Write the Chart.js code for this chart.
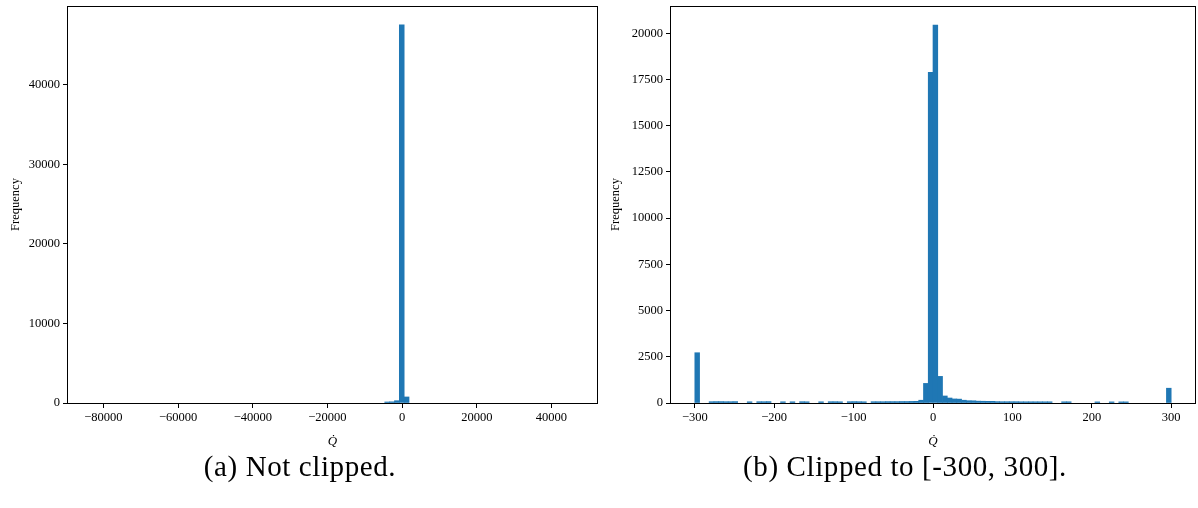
<!DOCTYPE html>
<html><head><meta charset="utf-8">
<script src="https://cdn.jsdelivr.net/npm/chart.js@4/dist/chart.umd.min.js"></script>
<style>
html,body{margin:0;padding:0;background:#fff;width:1198px;height:508px;overflow:hidden}
.box{position:absolute}
.cap{position:absolute;font-family:'Liberation Serif',serif;font-size:29px;line-height:34px;letter-spacing:0.6px;color:#000;white-space:nowrap;transform:translateX(-50%)}
</style></head><body>
<div class="box" style="left:0;top:0;width:600px;height:460px"><canvas id="c1" width="600" height="460"></canvas></div>
<div class="box" style="left:600px;top:0;width:598px;height:460px"><canvas id="c2" width="598" height="460"></canvas></div>
<div class="cap" style="left:300px;top:449px">(a) Not clipped.</div>
<div class="cap" style="left:905px;top:449px">(b) Clipped to [-300, 300].</div>
<script>
// ---- Panel (a): not clipped ----
const leftBinWidth = 1300;
const leftBinLeft = [-4650, -3350, -2050, -750, 550];
const leftCounts  = [130, 150, 290, 47550, 760];
const leftXTicks  = [-80000, -60000, -40000, -20000, 0, 20000, 40000];
const leftYTicks  = [0, 10000, 20000, 30000, 40000];
const leftXRange  = [-89500, 52200];
const leftYMax    = 49930;

// ---- Panel (b): clipped to [-300, 300] ----
const rightBinWidth = 6;
const rightBinLeft = [-300,
  -282, -276, -270, -264, -258, -252,
  -234, -222, -216, -210, -192, -180, -168, -162, -144,
  -132, -126, -120, -108, -102, -96, -90,
  -78, -72, -66, -60, -54, -48, -42, -36, -30, -24, -18,
  -12, -6, 0, 6, 12, 18, 24, 30, 36, 42, 48,
  54, 60, 66, 72,
  78, 84, 90, 96, 102, 108, 114, 120, 126, 132, 138, 144,
  162, 168, 204, 222, 234, 240, 294];
const rightCounts = [2720,
  70, 75, 75, 70, 70, 75,
  65, 70, 70, 75, 65, 65, 70, 65, 65,
  70, 70, 65, 70, 75, 70, 65,
  70, 70, 70, 75, 75, 75, 80, 80, 85, 90, 150,
  1060, 17890, 20450, 1440, 380, 270, 220, 210, 150, 125, 120,
  100, 95, 90, 90,
  75, 70, 70, 70, 70, 65, 65, 65, 65, 65, 65, 65,
  65, 65, 60, 60, 60, 60, 800];
const rightXTicks = [-300, -200, -100, 0, 100, 200, 300];
const rightYTicks = [0, 2500, 5000, 7500, 10000, 12500, 15000, 17500, 20000];
const rightXRange = [-330, 330];
const rightYMax   = 21480;

const FONT = "'Liberation Serif', 'Times New Roman', serif";
const BAR = '#1f77b4';

const framePlugin = {
  id: 'frame',
  afterDatasetsDraw(chart) {
    const a = chart.chartArea, ctx = chart.ctx;
    const l = Math.round(a.left) - 0.5, t = Math.round(a.top) + 0.5;
    const r = Math.round(a.right) + 0.5, b = Math.round(a.bottom) + 0.5;
    ctx.save();
    ctx.strokeStyle = '#000';
    ctx.lineWidth = 1;
    ctx.strokeRect(l, t, r - l, b - t);
    ctx.restore();
  }
};

function fmt(v) { return String(v).replace('-', '\u2212'); }

function makeChart(id, binLeft, counts, binWidth, xTicks, yTicks, xRange, yMax, yAxisWidth, padRight) {
  const data = binLeft.map((x, i) => ({ x: x + binWidth / 2, y: counts[i] }));
  return new Chart(document.getElementById(id), {
    type: 'bar',
    data: { datasets: [{ data, backgroundColor: BAR, borderWidth: 0,
                         barPercentage: 1, categoryPercentage: 1 }] },
    options: {
      responsive: false, animation: false, devicePixelRatio: 1,
      layout: { padding: { top: 6, right: padRight, left: 0, bottom: 0 } },
      plugins: { legend: { display: false }, tooltip: { enabled: false } },
      scales: {
        x: {
          type: 'linear', offset: false, min: xRange[0], max: xRange[1],
          afterBuildTicks: s => { s.ticks = xTicks.map(v => ({ value: v })); },
          afterFit: s => { s.height = 57; s.paddingLeft = 0; s.paddingRight = 0; },
          grid: { display: true, drawOnChartArea: false, drawTicks: true, tickLength: 5, color: '#000', offset: false },
          border: { display: false },
          ticks: { color: '#000', font: { family: FONT, size: 12.5 }, padding: 2, maxRotation: 0, autoSkip: false, callback: v => fmt(v) },
          title: { display: true, text: 'Q\u0307', color: '#000', font: { family: FONT, size: 13, style: 'italic' }, padding: { top: 0, bottom: 11 } }
        },
        y: {
          type: 'linear', min: 0, max: yMax,
          afterBuildTicks: s => { s.ticks = yTicks.map(v => ({ value: v })); },
          afterFit: s => { s.width = yAxisWidth; s.paddingTop = 0; s.paddingBottom = 0; },
          grid: { display: true, drawOnChartArea: false, drawTicks: true, tickLength: 5, color: '#000' },
          border: { display: false },
          ticks: { color: '#000', font: { family: FONT, size: 12.5 }, padding: 3, autoSkip: false, callback: v => fmt(v) },
          title: { display: true, text: 'Frequency', color: '#000', font: { family: FONT, size: 12.5 }, padding: { top: 8, bottom: 0 } }
        }
      }
    },
    plugins: [framePlugin]
  });
}

makeChart('c1', leftBinLeft, leftCounts, leftBinWidth, leftXTicks, leftYTicks, leftXRange, leftYMax, 68, 3);
makeChart('c2', rightBinLeft, rightCounts, rightBinWidth, rightXTicks, rightYTicks, rightXRange, rightYMax, 71, 3);
</script>
</body></html>
